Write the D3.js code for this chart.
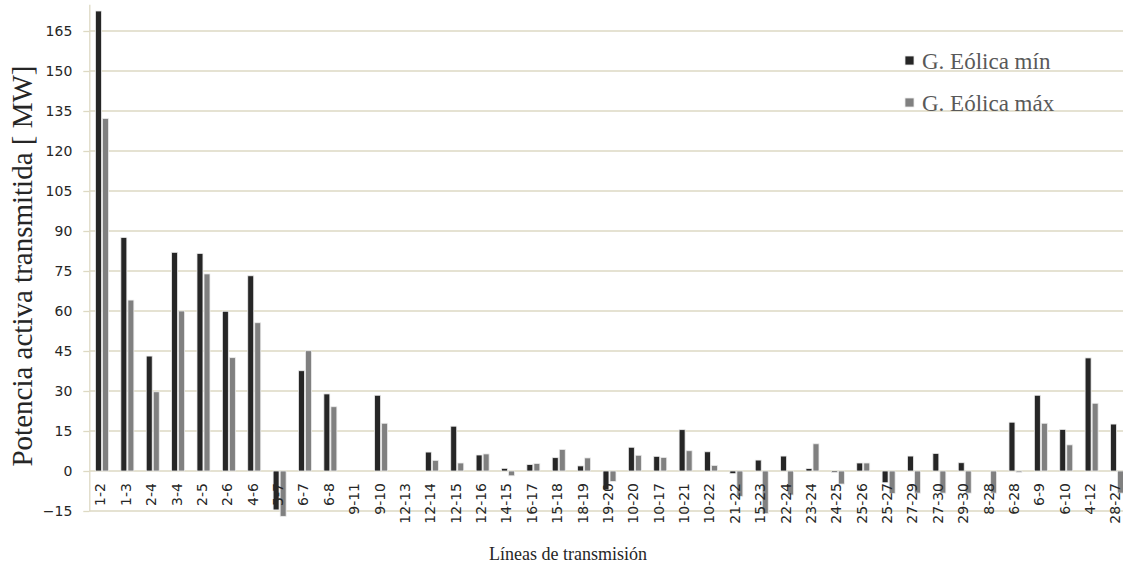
<!DOCTYPE html>
<html>
<head>
<meta charset="utf-8">
<script src="https://cdn.jsdelivr.net/npm/d3@7"></script>
<style>
  body { margin: 0; background: #fff; }
  svg { display: block; }
</style>
</head>
<body>
<div id="chart"></div>
<script>
// lineas de transmision
var categories = ["1-2","1-3","2-4","3-4","2-5","2-6","4-6","5-7","6-7","6-8","9-11","9-10","12-13","12-14","12-15","12-16","14-15","16-17","15-18","18-19","19-20","10-20","10-17","10-21","10-22","21-22","15-23","22-24","23-24","24-25","25-26","25-27","27-29","27-30","29-30","8-28","6-28","6-9","6-10","4-12","28-27"];

// potencia activa [MW], generacion eolica minima
var minVals = [172.5, 87.6, 43.1, 82.0, 81.6, 59.9, 73.2, -14.6, 37.6, 28.9, 0, 28.4, 0, 7.1, 16.8, 6.0, 1.0, 2.4, 5.0, 1.9, -7.1, 8.9, 5.5, 15.5, 7.2, -1.0, 4.1, 5.6, 0.9, -0.5, 3.0, -4.4, 5.6, 6.6, 3.1, 0, 18.3, 28.4, 15.6, 42.4, 17.6];

// potencia activa [MW], generacion eolica maxima
var maxVals = [132.2, 64.1, 29.7, 60.0, 73.9, 42.5, 55.6, -17.0, 45.1, 24.1, 0, 17.9, 0, 4.0, 3.0, 6.4, -1.8, 2.8, 8.1, 4.9, -3.9, 5.9, 5.1, 7.6, 2.1, -9.5, -16.0, -9.0, 10.2, -4.9, 3.0, -8.4, -8.3, -8.3, -8.3, -8.3, -0.5, 17.9, 9.8, 25.4, -8.3];

var seriesNames = ["G. Eólica mín", "G. Eólica máx"];
var seriesColors = ["#262626", "#808080"];
var yTicks = [-15, 0, 15, 30, 45, 60, 75, 90, 105, 120, 135, 150, 165];

var width = 1123, height = 571;
var left = 89.3, zeroY = 471, unit = 40 / 15;

var svg = d3.select("#chart").append("svg")
    .attr("width", width)
    .attr("height", height);

var y = d3.scaleLinear()
    .domain([-15, 175])
    .range([zeroY + 15 * unit, zeroY - 175 * unit]);

var x = d3.scaleBand()
    .domain(categories)
    .range([left, left + categories.length * 25.375])
    .padding(0);

var bw = x.bandwidth();
var x1 = d3.scaleBand()
    .domain(seriesNames)
    .range([bw / 2 - 6.5, bw / 2 + 6.5])
    .paddingInner(0.15);

var rows = categories.map(function(c, i){
    return {cat: c, values: [minVals[i], maxVals[i]]};
});

// gridlines
svg.append("g").selectAll("line")
    .data(yTicks)
    .enter().append("line")
    .attr("x1", left)
    .attr("x2", width)
    .attr("y1", function(d){ return y(d); })
    .attr("y2", function(d){ return y(d); })
    .attr("stroke", "#ddd9c3")
    .attr("stroke-width", 1.3);

// bars
var groups = svg.append("g").selectAll("g")
    .data(rows)
    .enter().append("g")
    .attr("transform", function(d){ return "translate(" + x(d.cat) + ",0)"; });

groups.selectAll("rect")
    .data(function(d){ return d.values.map(function(v, k){ return {k: k, v: v}; }); })
    .enter().append("rect")
    .attr("x", function(d){ return x1(seriesNames[d.k]); })
    .attr("width", x1.bandwidth())
    .attr("y", function(d){ return y(Math.max(0, d.v)); })
    .attr("height", function(d){ return Math.abs(y(d.v) - y(0)); })
    .attr("fill", function(d){ return seriesColors[d.k]; })
    .attr("stroke", "#ececec")
    .attr("stroke-width", 0.8);

// y axis
var yAxis = svg.append("g")
    .attr("transform", "translate(" + left + ",0)")
    .call(d3.axisLeft(y).tickValues(yTicks).tickSizeInner(6).tickSizeOuter(0).tickPadding(11));
yAxis.select(".domain").attr("stroke", "#ddd9c3").attr("stroke-width", 1.3);
yAxis.selectAll(".tick line").attr("stroke", "#ddd9c3").attr("stroke-width", 1.3);
yAxis.selectAll(".tick text")
    .attr("fill", "#262626")
    .style("font-family", "DejaVu Sans")
    .style("font-size", "14px");

// category labels, rotated, next to the zero line
svg.append("g").selectAll("text")
    .data(categories)
    .enter().append("text")
    .attr("transform", function(d){
        return "translate(" + (x(d) + bw / 2 - 1.5) + "," + (zeroY + 12) + ") rotate(-90)";
    })
    .attr("text-anchor", "end")
    .attr("dominant-baseline", "central")
    .attr("fill", "#262626")
    .style("font-family", "DejaVu Sans")
    .style("font-size", "14px")
    .text(function(d){ return d; });

// axis titles
svg.append("text")
    .attr("transform", "translate(32," + 266 + ") rotate(-90)")
    .attr("text-anchor", "middle")
    .attr("fill", "#262626")
    .style("font-family", "Liberation Serif")
    .style("font-size", "29px")
    .text("Potencia activa transmitida [ MW]");

svg.append("text")
    .attr("x", 568)
    .attr("y", 560)
    .attr("text-anchor", "middle")
    .attr("fill", "#262626")
    .style("font-family", "Liberation Serif")
    .style("font-size", "18px")
    .text("Líneas de transmisión");

// legend
var legend = svg.append("g").selectAll("g")
    .data(seriesNames)
    .enter().append("g")
    .attr("transform", function(d, i){ return "translate(905," + (56 + i * 42) + ")"; });

legend.append("rect")
    .attr("width", 9)
    .attr("height", 9)
    .attr("fill", function(d, i){ return seriesColors[i]; })
    .attr("stroke", "#ececec")
    .attr("stroke-width", 0.8);

legend.append("text")
    .attr("x", 17)
    .attr("y", 13)
    .attr("fill", "#595959")
    .style("font-family", "Liberation Serif")
    .style("font-size", "23px")
    .text(function(d){ return d; });
</script>
</body>
</html>
